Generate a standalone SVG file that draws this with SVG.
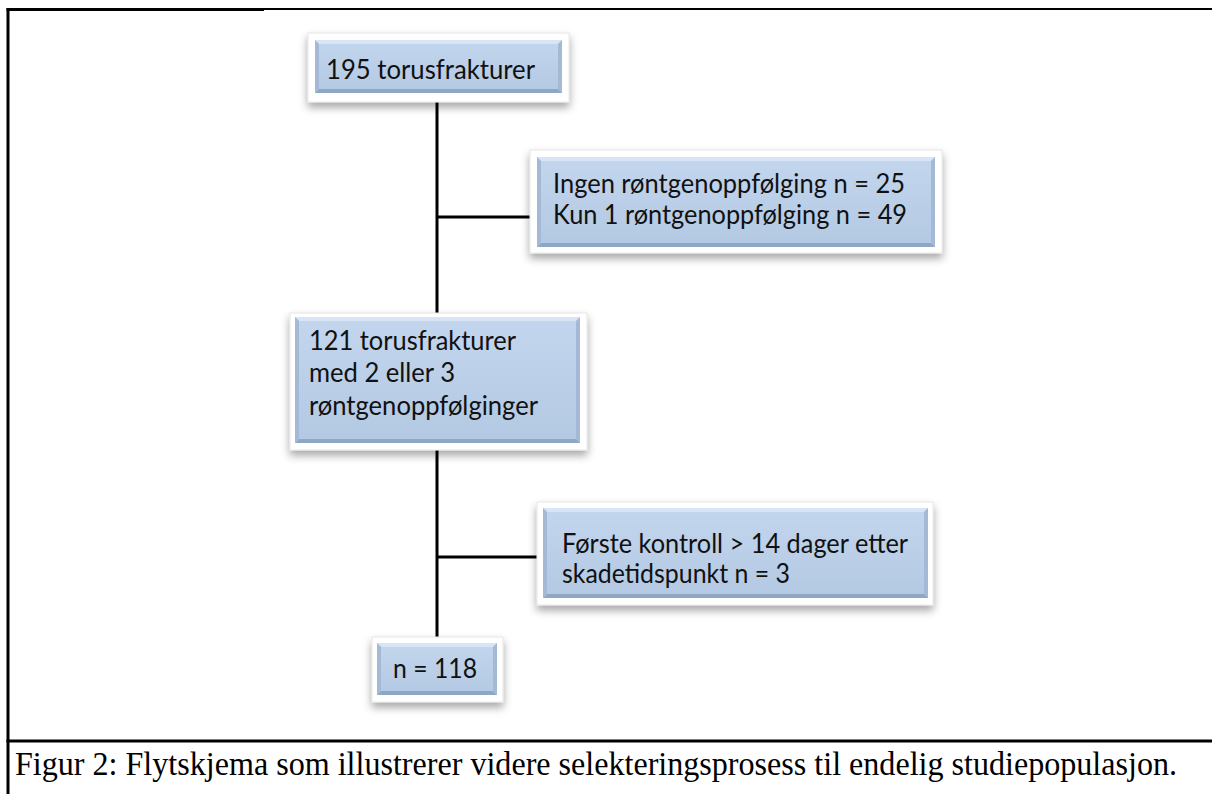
<svg xmlns="http://www.w3.org/2000/svg" width="1212" height="794" viewBox="0 0 1212 794">
<defs>
<filter id="sh" x="-10%" y="-20%" width="120%" height="150%">
<feDropShadow dx="0" dy="5" stdDeviation="4" flood-color="#000" flood-opacity="0.35"/>
</filter>
<linearGradient id="bg" x1="0" y1="0" x2="0" y2="1">
<stop offset="0" stop-color="#c3d6ee"/>
<stop offset="1" stop-color="#b3c8e2"/>
</linearGradient>
<style>
.frame{fill:#ffffff;stroke:#e6e6e6;stroke-width:1;filter:url(#sh)}
.blue{fill:url(#bg)}
.bev-t{fill:#d7e5f6}
.bev-b{fill:#8ea7c4}
.bev-s{fill:#a3b9d6}
.lbl{font-family:Lato,"Open Sans","Liberation Sans",sans-serif;font-size:26px;fill:#111}
.conn{stroke:#000;stroke-width:3;fill:none}
.rule{stroke:#000;fill:none}
.cap{font-family:"Liberation Serif","Times New Roman",serif;font-size:33px;fill:#000}
</style>
</defs>
<rect width="1212" height="794" fill="#ffffff"/>
<g id="border">
<line class="rule" x1="6.5" y1="9.5" x2="264" y2="9.5" stroke-width="3"/>
<line class="rule" x1="264" y1="9" x2="1212" y2="9" stroke-width="2"/>
<line class="rule" x1="8" y1="8" x2="8" y2="794" stroke-width="3"/>
<line class="rule" x1="6.5" y1="741" x2="1212" y2="741" stroke-width="3"/>
</g>
<g id="connectors">
<line class="conn" x1="437" y1="100" x2="437" y2="315"/>
<line class="conn" x1="437" y1="217" x2="532" y2="217"/>
<line class="conn" x1="437" y1="448" x2="437" y2="639"/>
<line class="conn" x1="437" y1="557" x2="539" y2="557"/>
</g>
<g id="n1">
<rect class="frame" x="308" y="33" width="261" height="69"/>
<rect class="blue" x="315" y="40" width="247" height="53"/>
<polygon class="bev-t" points="315,40 562,40 558,44 319,44"/>
<polygon class="bev-b" points="315,93 562,93 558,89 319,89"/>
<polygon class="bev-s" points="315,40 319,44 319,89 315,93"/>
<polygon class="bev-s" points="562,40 558,44 558,89 562,93"/>
<text class="lbl" x="326" y="79" textLength="209" lengthAdjust="spacingAndGlyphs">195 torusfrakturer</text>
</g>
<g id="n2">
<rect class="frame" x="530" y="150" width="412" height="103"/>
<rect class="blue" x="537" y="157" width="398" height="90"/>
<polygon class="bev-t" points="537,157 935,157 931,161 541,161"/>
<polygon class="bev-b" points="537,247 935,247 931,243 541,243"/>
<polygon class="bev-s" points="537,157 541,161 541,243 537,247"/>
<polygon class="bev-s" points="935,157 931,161 931,243 935,247"/>
<text class="lbl" x="553" y="193" textLength="352" lengthAdjust="spacingAndGlyphs">Ingen røntgenoppfølging n = 25</text>
<text class="lbl" x="553" y="224" textLength="354" lengthAdjust="spacingAndGlyphs">Kun 1 røntgenoppfølging n = 49</text>
</g>
<g id="n3">
<rect class="frame" x="290" y="313" width="297" height="137"/>
<rect class="blue" x="295" y="317" width="285" height="126"/>
<polygon class="bev-t" points="295,317 580,317 576,321 299,321"/>
<polygon class="bev-b" points="295,443 580,443 576,439 299,439"/>
<polygon class="bev-s" points="295,317 299,321 299,439 295,443"/>
<polygon class="bev-s" points="580,317 576,321 576,439 580,443"/>
<text class="lbl" x="309" y="350" textLength="207" lengthAdjust="spacingAndGlyphs">121 torusfrakturer</text>
<text class="lbl" x="309" y="382" textLength="146" lengthAdjust="spacingAndGlyphs">med 2 eller 3</text>
<text class="lbl" x="309" y="415" textLength="229" lengthAdjust="spacingAndGlyphs">røntgenoppfølginger</text>
</g>
<g id="n4">
<rect class="frame" x="537" y="502" width="396" height="103"/>
<rect class="blue" x="543" y="508" width="385" height="90"/>
<polygon class="bev-t" points="543,508 928,508 924,512 547,512"/>
<polygon class="bev-b" points="543,598 928,598 924,594 547,594"/>
<polygon class="bev-s" points="543,508 547,512 547,594 543,598"/>
<polygon class="bev-s" points="928,508 924,512 924,594 928,598"/>
<text class="lbl" x="562" y="553" textLength="346" lengthAdjust="spacingAndGlyphs">Første kontroll &gt; 14 dager etter</text>
<text class="lbl" x="562" y="583" textLength="228" lengthAdjust="spacingAndGlyphs">skadetidspunkt n = 3</text>
</g>
<g id="n5">
<rect class="frame" x="372" y="637" width="131" height="65"/>
<rect class="blue" x="377" y="643" width="120" height="52"/>
<polygon class="bev-t" points="377,643 497,643 493,647 381,647"/>
<polygon class="bev-b" points="377,695 497,695 493,691 381,691"/>
<polygon class="bev-s" points="377,643 381,647 381,691 377,695"/>
<polygon class="bev-s" points="497,643 493,647 493,691 497,695"/>
<text class="lbl" x="393" y="678" textLength="84" lengthAdjust="spacingAndGlyphs">n = 118</text>
</g>
<g id="caption">
<text class="cap" x="15" y="775" textLength="1162" lengthAdjust="spacingAndGlyphs">Figur 2: Flytskjema som illustrerer videre selekteringsprosess til endelig studiepopulasjon.</text>
</g>
</svg>
